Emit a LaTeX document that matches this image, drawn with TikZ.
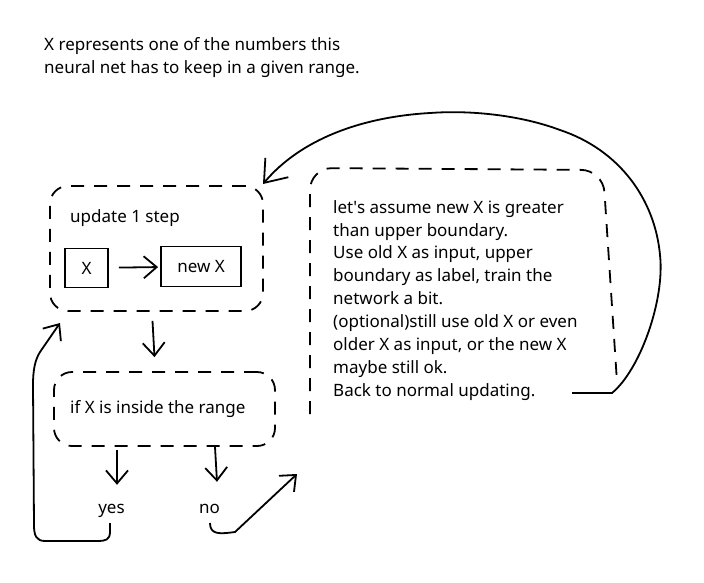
\documentclass[tikz,border=0pt]{standalone}
\usepackage{fontspec}
\setmainfont{Noto Sans}
\usetikzlibrary{arrows.meta}
\newcommand{\straightquote}{\XeTeXglyph\XeTeXcharglyph"0027\relax}
\begin{document}
\begin{tikzpicture}[x=1pt,y=-1pt,
  txt/.style={inner sep=0pt,font=\fontsize{17}{22.9}\selectfont,align=left},
  dsh/.style={line width=1.8pt,dash pattern=on 13pt off 10pt},
  solid line/.style={line width=1.8pt},
  barb/.style={-{Straight Barb[length=13pt,width=22pt,line width=1.8pt]}},
  bigbarb/.style={-{Straight Barb[length=20pt,width=30pt,line width=1.8pt]}},
  box/.style={draw,line width=1.8pt,inner sep=0pt,font=\fontsize{17}{20}\selectfont}]
\useasboundingbox (0,0) rectangle (704,582);
% title
\node[txt,anchor=north west] (title) at (44,37) {X represents one of the numbers this\\neural net has to keep in a given range.};
% update box
\node[dsh,draw,rounded corners=18pt,minimum width=213pt,minimum height=125pt] (upd) at (156.5,248.5) {};
\node[txt,anchor=base west] (updt) at (70,222) {update 1 step};
\node[box,minimum width=43pt,minimum height=39pt] (xb) at (86.5,268) {X};
\node[box,minimum width=80pt,minimum height=40pt] (nx) at (201,266.5) {new X};
\draw[solid line,barb,shorten <=10pt,shorten >=2pt] (xb) -- (nx);
% if box
\node[dsh,draw,rounded corners=18pt,minimum width=221pt,minimum height=74pt] (ifb) at (164.5,409) {};
\node[txt,anchor=base west] (ift) at (70,413) {if X is inside the range};
\draw[solid line,barb] ([xshift=-4pt,yshift=-9pt]upd.south) -- ([xshift=-10pt,yshift=14pt]ifb.north);
% yes / no
\node[txt,anchor=base,text height=12pt] (yes) at (111.5,513) {yes};
\node[txt,anchor=base,text height=12pt] (no) at (209.5,513) {no};
\coordinate (yesin) at (117,450);
\coordinate (noin) at (215,447);
\draw[solid line,barb] (yesin) -- ([yshift=16pt]yesin |- yes.north);
\draw[solid line,barb] (noin) -- ([xshift=2pt,yshift=19pt]noin |- no.north);
% right box
\coordinate (rb1) at (310,414);
\coordinate (rb2) at (310,168);
\coordinate (rb3) at (603,170);
\coordinate (rb4) at (617,382);
\draw[dsh,rounded corners=22pt] (rb1) -- (rb2) -- (rb3) -- (rb4);
\node[txt,anchor=north west] (rbt) at (333,200) {let\straightquote s assume new X is greater\\than upper boundary.\\Use old X as input, upper\\boundary as label, train the\\network a bit.\\(optional)still use old X or even\\older X as input, or the new X\\maybe still ok.\\Back to normal updating.};
% loop from yes back to update
\coordinate (yesout) at (110,523);
\coordinate (updin) at (60,323);
\draw[solid line,barb] (yesout) -- (110,532) .. controls (110,540) and (105,541) .. (98,541)
  -- (45,541) .. controls (36,541) and (34,535) .. (34,525)
  -- (33,385) .. controls (33,370) and (35,360) .. (40,352) -- (updin);
% loop from no to right box
\coordinate (noout) at (210,523);
\coordinate (rbin) at (297,474);
\draw[solid line,barb] (noout) .. controls (210,535) and (220,534) .. (235,532) -- (rbin);
% big loop from right box back to update
\coordinate (rbout) at (572,393);
\coordinate (updtr) at (263,184);
\draw[solid line,bigbarb] (rbout) -- (612,393)
  .. controls (640,370) and (665,300) .. (660,255)
  .. controls (655,200) and (620,150) .. (560,130)
  .. controls (520,115) and (470,110) .. (430,113)
  .. controls (360,117) and (300,140) .. (updtr);
\end{tikzpicture}
\end{document}
